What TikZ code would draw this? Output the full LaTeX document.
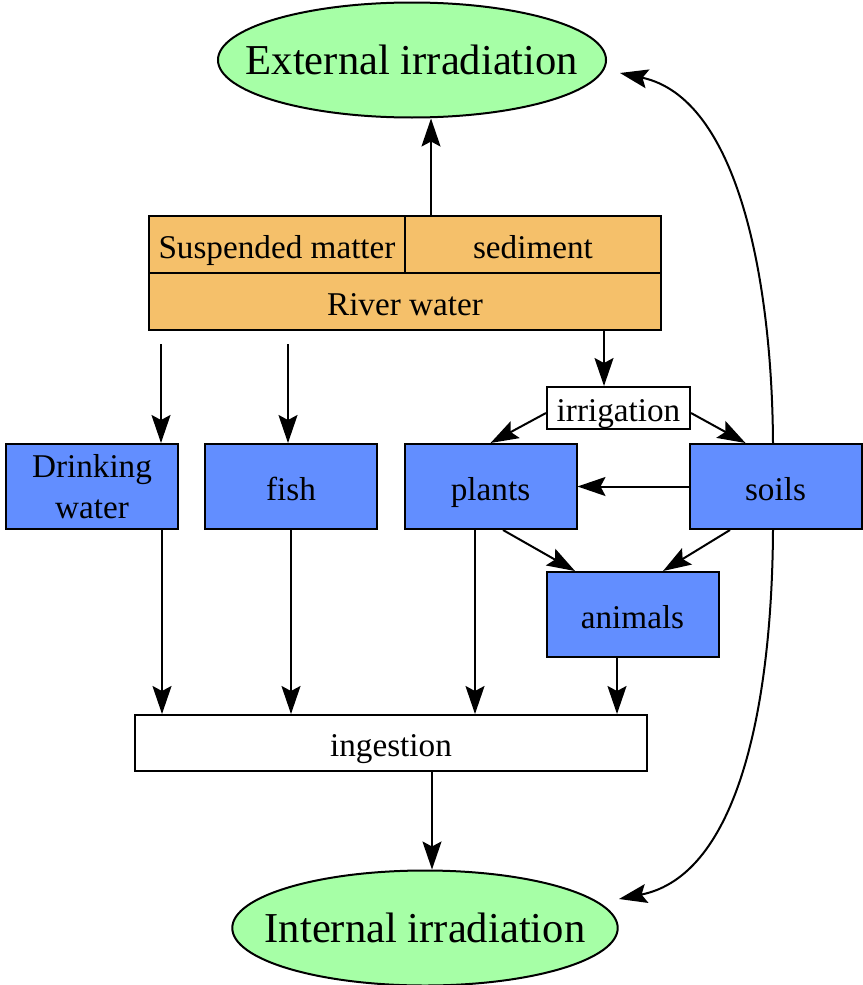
\documentclass[tikz,border=0pt]{standalone}
\usepackage{fontspec}
\setmainfont{Liberation Serif}
\usetikzlibrary{arrows.meta,shapes.geometric}
\definecolor{ellgreen}{RGB}{166,255,166}
\definecolor{boxorange}{RGB}{245,192,106}
\definecolor{boxblue}{RGB}{98,142,255}
\begin{document}
\begin{tikzpicture}[x=0.5pt,y=-0.5pt,
  every node/.style={font=\fontsize{16.6}{20.5}\selectfont, inner sep=0pt, line width=1pt, draw=black, align=center},
  oneline/.style={text height=14.5pt, text depth=0.6pt},
  ell/.style={ellipse, fill=ellgreen, minimum height=57.5pt, font=\fontsize{21.3}{25}\selectfont},
  obox/.style={rectangle, fill=boxorange, minimum width=128pt, minimum height=28.5pt, oneline},
  bbox/.style={rectangle, fill=boxblue, minimum width=86pt, minimum height=42.5pt},
  wbox/.style={rectangle, fill=white, oneline},
  arr/.style={-{Stealth[length=14pt,width=9.5pt,inset=2.5pt]}, line width=1pt}]
\useasboundingbox (0,0) rectangle (862,985);
\node[ell, inner xsep=-14.5pt] (ext) at (412,60) {External irradiation};
\node[ell, inner xsep=-12pt] (int) at (425,928) {Internal irradiation};
\node[obox] (susp) at (277,244.5) {Suspended matter};
\node[obox] (sed) at (533,244.5) {sediment};
\node[obox, minimum width=256pt] (river) at (405,301.5) {River water};
\node[bbox] (drink) at (92,486.5) {Drinking\\water};
\node[bbox, oneline] (fish) at (291,486.5) {fish};
\node[bbox, oneline] (plants) at (490.5,486.5) {plants};
\node[bbox, oneline] (soils) at (775.5,486.5) {soils};
\node[bbox, oneline] (animals) at (632.5,614.5) {animals};
\node[wbox, minimum width=256pt, minimum height=28pt] (ingest) at (391,743) {ingestion};
\node[wbox, minimum width=71.5pt, minimum height=21pt] (irrig) at (618.5,408) {irrigation};

\path ([xshift=13.5pt]sed.north west) coordinate (se);
\path ([xshift=6.5pt,yshift=-6.5pt]river.south west) coordinate (rd);
\path ([xshift=70pt,yshift=-6.5pt]river.south west) coordinate (rf);
\path ([xshift=-29pt]river.south east) coordinate (ri);
\path ([xshift=35pt]drink.south) coordinate (dI);
\path (fish.south) coordinate (fI);
\path ([xshift=-7.75pt]plants.south) coordinate (pI);
\path ([xshift=-7.75pt]animals.south) coordinate (aI);
\path ([xshift=20.5pt]ingest.south) coordinate (ie);
\path (620,73) coordinate (extin);
\path (619,899) coordinate (intin);

\draw[arr] (se) -- (se |- ext.south);
\draw[arr] (rd) -- (rd |- drink.north);
\draw[arr] (rf) -- (rf |- fish.north);
\draw[arr] (ri) -- (ri |- irrig.north);
\draw[arr] ([yshift=-2.5pt]irrig.west) -- (plants.north);
\draw[arr] ([yshift=-2.5pt]irrig.east) -- ([xshift=-15pt]soils.north);
\draw[arr] (soils.west) -- (plants.east);
\draw[arr] ([xshift=6.25pt]plants.south) -- ([xshift=-28.75pt]animals.north);
\draw[arr] ([xshift=-22.75pt]soils.south) -- ([xshift=15.25pt]animals.north);
\draw[arr] (dI) -- (dI |- ingest.north);
\draw[arr] (fI) -- (fI |- ingest.north);
\draw[arr] (pI) -- (pI |- ingest.north);
\draw[arr] (aI) -- (aI |- ingest.north);
\draw[arr] (ie) -- (ie |- int.north);
\draw[arr] ([xshift=-1.25pt]soils.north) .. controls (772,280) and (738,98) .. (extin);
\draw[arr] ([xshift=-1.25pt]soils.south) .. controls (772,700) and (740,875) .. (intin);
\end{tikzpicture}
\end{document}
